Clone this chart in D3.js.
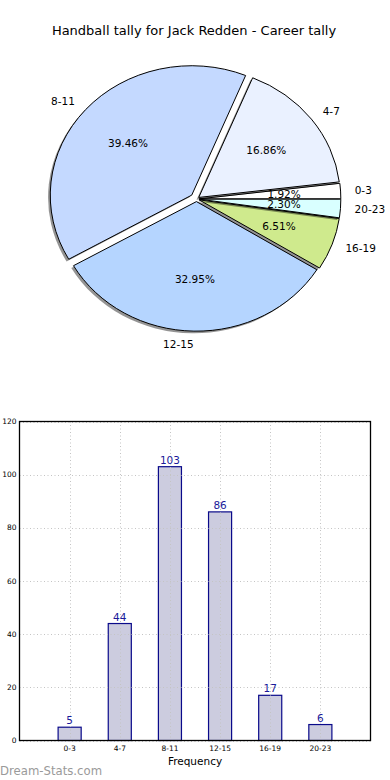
<!DOCTYPE html>
<html><head><meta charset="utf-8">
<script src="https://cdn.jsdelivr.net/npm/d3@7"></script>
<style>
html,body{margin:0;padding:0;background:#fff;}
svg{display:block;font-family:"DejaVu Sans",sans-serif;}
</style></head>
<body>
<svg id="chart" width="390" height="780"></svg>
<script>
const title = "Handball tally for Jack Redden - Career tally";
const categories = ["0-3","4-7","8-11","12-15","16-19","20-23"];
const values = [5,44,103,86,17,6];
const pieColors = ["#ffffff","#eaf1ff","#c4d9ff","#b5d5ff","#cfea8d","#d9ffff"];
const explode = [0.02,0.02,0.045,0.02,0.02,0.02];
const yTicks = [0,20,40,60,80,100,120];
const xLabel = "Frequency";
const watermark = "Dream-Stats.com";

const svg = d3.select("#chart");

svg.append("text").attr("x",194).attr("y",35).attr("text-anchor","middle")
  .attr("font-size","13px").attr("fill","#000").text(title);

// ---- Pie ----
const cx = 196.5, cy = 199, rx = 141.5, ry = 129.5;
const total = d3.sum(values);
const pie = d3.pie().sort(null).value(d=>d).startAngle(Math.PI/2).endAngle(Math.PI/2 - 2*Math.PI);
const arcs = pie(values);
const arcGen = d3.arc().innerRadius(0).outerRadius(1);
const pieG = svg.append("g");
arcs.forEach((a,i)=>{
  const m = (a.startAngle + a.endAngle)/2;
  const ex = explode[i];
  const dx = Math.sin(m)*ex*rx, dy = -Math.cos(m)*ex*ry;
  pieG.append("path")
    .attr("d", arcGen(a))
    .attr("transform", `translate(${cx+dx-2.2},${cy+dy+2.2}) scale(${rx},${ry})`)
    .attr("fill","#000").attr("fill-opacity",0.42).attr("stroke","none");
  pieG.append("path")
    .attr("d", arcGen(a))
    .attr("transform", `translate(${cx+dx},${cy+dy}) scale(${rx},${ry})`)
    .attr("fill", pieColors[i]).attr("stroke","#000").attr("stroke-width",1)
    .attr("vector-effect","non-scaling-stroke").attr("stroke-linejoin","round");
});
arcs.forEach((a,i)=>{
  const m = (a.startAngle + a.endAngle)/2;
  const ex = explode[i];
  const sx = Math.sin(m), sy = -Math.cos(m);
  const lr = 1.1 + ex;
  svg.append("text")
    .attr("x", cx + sx*lr*rx).attr("y", cy + sy*lr*ry)
    .attr("dy","0.35em")
    .attr("text-anchor", sx > 0.001 ? "start" : (sx < -0.001 ? "end" : "middle"))
    .attr("font-size","10.5px").attr("fill","#000").text(categories[i]);
  const pr = 0.6 + ex;
  svg.append("text")
    .attr("x", cx + sx*pr*rx).attr("y", cy + sy*pr*ry)
    .attr("dy","0.35em").attr("text-anchor","middle")
    .attr("font-size","10.5px").attr("fill","#000")
    .text((values[i]/total*100).toFixed(2)+"%");
});

// ---- Bar chart ----
const pLeft = 19.5, pRight = 370.5, pTop = 421.5, pBottom = 740.5;
const x = d3.scaleLinear().domain([-1, categories.length]).range([pLeft, pRight]);
const y = d3.scaleLinear().domain([0,120]).range([pBottom, pTop]);
const barW = 0.46;
const bg = svg.append("g");

bg.selectAll("rect.bar").data(values).join("rect")
  .attr("class","bar")
  .attr("x",(d,i)=>x(i-barW/2)).attr("width",x(barW)-x(0))
  .attr("y",d=>y(d)).attr("height",d=>y(0)-y(d))
  .attr("fill","#ccccdf").attr("stroke","#0a0a8a").attr("stroke-width",1.2);

const grid = bg.append("g").attr("stroke","#c4c4c4").attr("stroke-width",1).attr("stroke-dasharray","1,2.5");
yTicks.forEach(t=>{
  grid.append("line").attr("x1",pLeft).attr("x2",pRight).attr("y1",Math.round(y(t))+0.5).attr("y2",Math.round(y(t))+0.5);
});
categories.forEach((c,i)=>{
  grid.append("line").attr("x1",Math.round(x(i))+0.5).attr("x2",Math.round(x(i))+0.5).attr("y1",pTop).attr("y2",pBottom);
});

bg.append("rect").attr("x",pLeft).attr("y",pTop).attr("width",pRight-pLeft).attr("height",pBottom-pTop)
  .attr("fill","none").attr("stroke","#000").attr("stroke-width",1.3);

yTicks.forEach(t=>{
  bg.append("text").attr("x",pLeft-3).attr("y",y(t)).attr("dy","0.35em")
    .attr("text-anchor","end").attr("font-size","7.5px").attr("fill","#000").text(t);
});
categories.forEach((c,i)=>{
  bg.append("text").attr("x",x(i)).attr("y",pBottom+10).attr("text-anchor","middle")
    .attr("font-size","7.5px").attr("fill","#000").text(c);
});
values.forEach((v,i)=>{
  bg.append("text").attr("x",x(i)).attr("y",y(v)-3).attr("text-anchor","middle")
    .attr("font-size","10.5px").attr("fill","#1a1a9a").text(v);
});
bg.append("text").attr("x",(pLeft+pRight)/2).attr("y",pBottom+24).attr("text-anchor","middle")
  .attr("font-size","10.5px").attr("fill","#000").text(xLabel);

svg.append("text").attr("x",0).attr("y",775).attr("font-size","11.7px")
  .attr("fill","#9a9a9a").text(watermark);
</script>
</body></html>
